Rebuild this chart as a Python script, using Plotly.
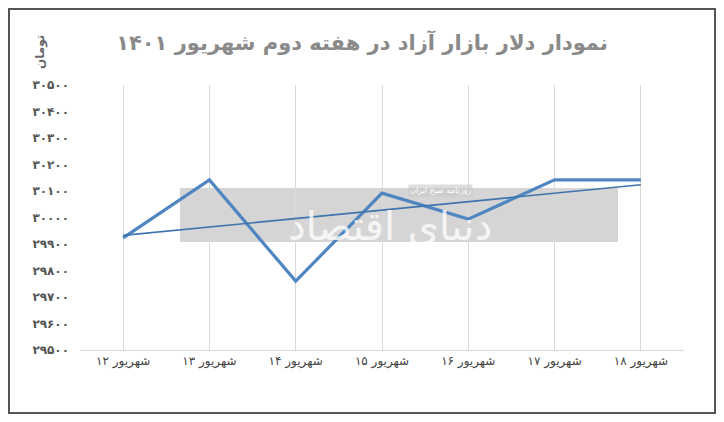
import plotly.graph_objects as go
import numpy as np

fa = str.maketrans("0123456789", "۰۱۲۳۴۵۶۷۸۹")

days = ["12", "13", "14", "15", "16", "17", "18"]
prices = [29923, 30142, 29760, 30092, 29994, 30142, 30142]
y_ticks = list(range(29500, 30501, 100))

cats = ["شهریور " + d.translate(fa) for d in days]
xi = np.arange(len(prices))
k, b = np.polyfit(xi, prices, 1)
trend = k * xi + b

# page body adds 8px offset, so work in figure coords = screen - 8
W, H = 708, 406
L, R, T, B = 72, 32, 77, 64
pw, ph = W - L - R, H - T - B
px = lambda sx: (sx - 8 - L) / pw
py = lambda sy: 1 - (sy - 8 - T) / ph

fig = go.Figure()
fig.add_trace(go.Scatter(x=cats, y=prices, mode="lines",
                         line=dict(color="#4f86c2", width=3.2)))
fig.add_trace(go.Scatter(x=cats, y=trend, mode="lines",
                         line=dict(color="#3f74ae", width=1.6)))

# watermark
fig.add_shape(type="rect", xref="paper", yref="paper",
              x0=px(180), x1=px(618), y0=py(242), y1=py(188),
              fillcolor="rgba(150,150,150,0.4)", line_width=0, layer="below")
fig.add_annotation(xref="paper", yref="paper", x=px(390), y=py(226),
                   text="دنیای اقتصاد", showarrow=False,
                   font=dict(size=40, color="rgba(255,255,255,0.8)", family="DejaVu Sans"))
fig.add_annotation(xref="paper", yref="paper", x=px(440), y=py(190),
                   text="روزنامه صبح ایران", showarrow=False, bgcolor="rgba(200,200,200,0.6)",
                   font=dict(size=8, color="white", family="DejaVu Sans"))

# frame
fig.add_shape(type="rect", xref="paper", yref="paper",
              x0=px(9), x1=px(715), y0=py(413), y1=py(9),
              line=dict(color="#555", width=2))

fig.add_annotation(xref="paper", yref="paper", x=px(40), y=py(52),
                   xanchor="center", yanchor="middle",
                   text="<b>تومان</b>", textangle=-90, showarrow=False,
                   font=dict(size=12, color="#666", family="DejaVu Sans"))

fig.update_layout(
    width=W, height=H, margin=dict(l=L, r=R, t=T, b=B, autoexpand=False),
    paper_bgcolor="white", plot_bgcolor="white", showlegend=False,
    title=dict(text="<b>نمودار دلار بازار آزاد در هفته دوم شهریور ۱۴۰۱</b>",
               x=0.5, xanchor="center", y=1 - 35 / H, yanchor="middle",
               font=dict(size=21, color="#8a8a8a", family="DejaVu Sans")),
    font=dict(family="DejaVu Sans", color="#555"),
)
fig.update_xaxes(range=[-0.5, 6.5], showgrid=True, gridcolor="#d9d9d9",
                 showline=True, linecolor="#d9d9d9", ticks="", automargin=False,
                 tickfont=dict(size=12, color="#444"))
fig.update_yaxes(range=[29500, 30500], showgrid=False, zeroline=False, automargin=False,
                 tickvals=y_ticks,
                 ticktext=["<b>" + str(v).translate(fa) + "</b>" for v in y_ticks],
                 tickfont=dict(size=12, color="#555"), ticklabelstandoff=10)

fig.write_html("out.html")
